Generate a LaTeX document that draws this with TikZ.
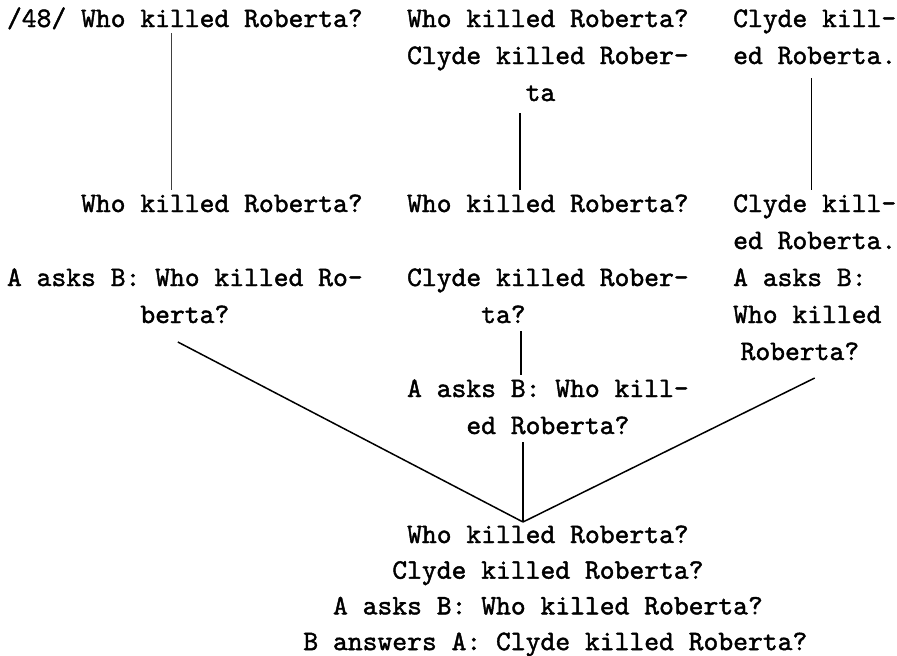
\documentclass[tikz,border=0pt]{standalone}
\usepackage{fontspec}
\newfontfamily\tw[FakeBold=1.5]{lmmono10-regular.otf}
\usetikzlibrary{calc}
\newlength\cw
\setlength\cw{14.82pt}
\newcommand\ls{\rule[-8pt]{0pt}{30pt}}
\newcommand\lsd{\rule[-7pt]{0pt}{29pt}}
\begin{document}
\begin{tikzpicture}[x=1pt,y=-1pt,
  txt/.style={font=\tw\fontsize{28.23pt}{37pt}\selectfont, align=left, anchor=north west, inner sep=0pt, outer sep=0pt},
  dtxt/.style={txt, font=\tw\fontsize{28.23pt}{35.7pt}\selectfont},
  link/.style={line width=1.5pt, black},
  faint/.style={line width=0.9pt, black!75}]
\useasboundingbox (0,0) rectangle (897,656);
% column 1
\node[txt] (a1) at (7,5) {\ls /48/ Who killed Roberta?};
\node[txt] (a2) at (81.1,190) {\ls Who killed Roberta?};
\node[txt] (a3) at (7,264) {\ls A asks B: Who killed Ro-\\\ls\hspace*{9\cw}berta?};
% column 2
\node[txt] (b1) at (407.1,5) {\ls Who killed Roberta?\\\ls Clyde killed Rober-\\\ls\hspace*{8\cw}ta};
\node[txt] (b2) at (407.1,190) {\ls Who killed Roberta?};
\node[txt] (b3) at (407.1,264) {\ls Clyde killed Rober-\\\ls\hspace*{5\cw}ta?};
\node[txt] (b4) at (407.1,375) {\ls A asks B: Who kill-\\\ls\hspace*{4\cw}ed Roberta?};
% column 3
\node[txt] (c1) at (733.2,5) {\ls Clyde kill-\\\ls ed Roberta.};
\node[txt] (c2) at (733.2,190) {\ls Clyde kill-\\\ls ed Roberta.\\\ls A asks B:\\\ls Who killed\\\ls\hspace*{0.5\cw}Roberta?};
% bottom
\node[dtxt] (d) at (303.4,521) {\ls\hspace*{7\cw}Who killed Roberta?\\\lsd\hspace*{6\cw}Clyde killed Roberta?\\\lsd\hspace*{2\cw}A asks B: Who killed Roberta?\\\lsd B answers A: Clyde killed Roberta?};
% connectors
\draw[faint] ($(a1.south)+(-13,-2)$) coordinate (t1) -- (t1 |- a2.north);
\draw[link] ($(b1.south)+(-28,4)$) coordinate (t2) -- (t2 |- b2.north);
\draw[link] ($(c1.south)+(-3,6)$) coordinate (t3) -- (t3 |- c2.north);
\draw[link] ($(b3.south)+(-27,0)$) coordinate (t4) -- (t4 |- b4.north);
\coordinate (apex) at ($(d.north west)+(219.6,1)$);
\draw[link] (b4.south -| apex) -- (apex);
\draw[link] ($(a3.south)+(-7,11)$) -- (apex);
\draw[link] ($(c2.south)+(0,10)$) -- (apex);
\end{tikzpicture}
\end{document}
